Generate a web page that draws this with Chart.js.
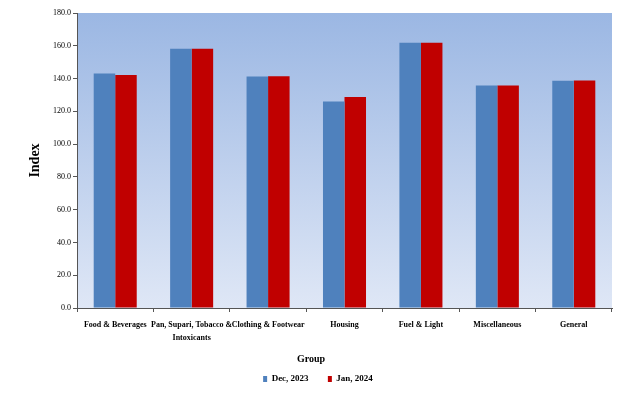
<!DOCTYPE html>
<html>
<head>
<meta charset="utf-8">
<script src="https://cdn.jsdelivr.net/npm/chart.js@4.4.1/dist/chart.umd.min.js"></script>
<style>
html,body{margin:0;padding:0;background:#ffffff;}
#wrap{width:642px;height:397px;position:relative;}
</style>
</head>
<body>
<div id="wrap"><canvas id="c" width="642" height="397"></canvas></div>
<script>
// ---- data ----
const categories = [
  'Food & Beverages',
  ['Pan, Supari, Tobacco &', 'Intoxicants'],
  'Clothing & Footwear',
  'Housing',
  'Fuel & Light',
  'Miscellaneous',
  'General'
];
const seriesNames = ['Dec, 2023', 'Jan, 2024'];
const dec2023 = [143.1, 158.2, 141.2, 126.0, 161.9, 135.7, 138.7];
const jan2024 = [142.1, 158.2, 141.4, 128.8, 161.9, 135.7, 138.8];
const yTickValues = [0, 20, 40, 60, 80, 100, 120, 140, 160, 180];
const xTitle = 'Group';
const yTitle = 'Index';

const SERIF = '"Liberation Serif", "Times New Roman", serif';

const plotBackground = {
  id: 'plotBackground',
  beforeDraw(chart) {
    const {ctx, chartArea: a} = chart;
    const g = ctx.createLinearGradient(0, a.top, 0, a.bottom);
    g.addColorStop(0, '#9bb7e3');
    g.addColorStop(1, '#dfe7f6');
    ctx.save();
    ctx.fillStyle = g;
    ctx.fillRect(a.left, a.top, a.right - a.left, a.bottom - a.top);
    ctx.restore();
  }
};

const legendShift = {
  id: 'legendShift',
  afterLayout(chart) {
    const lg = chart.legend;
    if (lg) { lg.left += 12; lg.right += 12; }
  }
};

const groupTitle = {
  id: 'groupTitle',
  afterDraw(chart) {
    const ctx = chart.ctx;
    ctx.save();
    ctx.font = 'bold 10px ' + SERIF;
    ctx.fillStyle = '#000';
    ctx.textAlign = 'center';
    ctx.textBaseline = 'middle';
    ctx.fillText(xTitle, 311, 359);
    ctx.restore();
  }
};

new Chart(document.getElementById('c'), {
  type: 'bar',
  data: {
    labels: categories,
    datasets: [
      {label: seriesNames[0], data: dec2023, backgroundColor: '#4f81bd', borderWidth: 0,
       categoryPercentage: 0.563, barPercentage: 1.0},
      {label: seriesNames[1], data: jan2024, backgroundColor: '#c00000', borderWidth: 0,
       categoryPercentage: 0.563, barPercentage: 1.0}
    ]
  },
  options: {
    responsive: false,
    animation: false,
    devicePixelRatio: 1,
    layout: {padding: {top: 13, right: 30, bottom: 3.5, left: 0}},
    plugins: {
      tooltip: {enabled: false},
      legend: {
        position: 'bottom',
        labels: {
          boxWidth: 4,
          boxHeight: 6,
          padding: 8,
          color: '#000',
          font: {family: SERIF, size: 9, weight: 'bold'},
          generateLabels(chart) {
            const items = Chart.defaults.plugins.legend.labels.generateLabels(chart);
            if (items[0]) items[0].text = items[0].text + '     ';
            items.forEach(it => { it.lineWidth = 0; });
            return items;
          }
        }
      }
    },
    scales: {
      x: {
        grid: {display: true, offset: true, drawOnChartArea: false, drawTicks: true, tickLength: 4, color: '#555'},
        border: {display: true, color: '#555', width: 1},
        ticks: {
          color: '#000',
          padding: 7,
          maxRotation: 0,
          autoSkip: false,
          font: {family: SERIF, size: 8, weight: 'bold', lineHeight: 1.55}
        },
        afterFit(s) { s.height = 58.5; }
      },
      y: {
        min: 0,
        max: 180,
        afterBuildTicks(s) { s.ticks = yTickValues.map(v => ({value: v})); },
        grid: {display: true, drawOnChartArea: false, drawTicks: true, tickLength: 4, color: '#555'},
        border: {display: true, color: '#555', width: 1},
        ticks: {
          color: '#000',
          padding: 2,
          font: {family: SERIF, size: 8},
          callback: v => Number(v).toFixed(1)
        },
        title: {
          display: true,
          text: yTitle,
          color: '#000',
          font: {family: SERIF, size: 14, weight: 'bold'},
          padding: {top: 27, bottom: 0}
        },
        afterFit(s) { s.width = 77; }
      }
    }
  },
  plugins: [plotBackground, legendShift, groupTitle]
});
</script>
</body>
</html>
